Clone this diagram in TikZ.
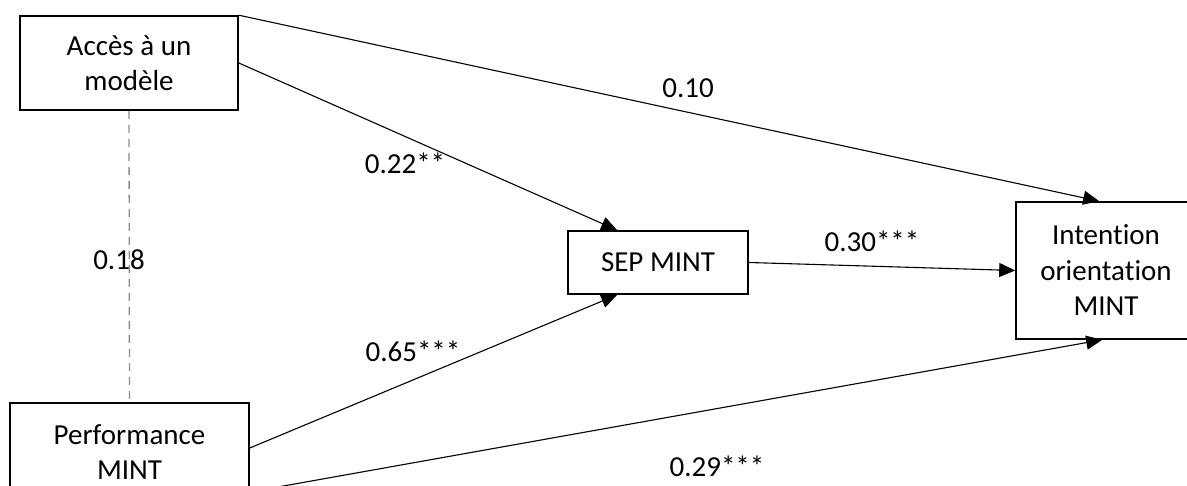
\documentclass[tikz,border=0pt]{standalone}
\usepackage{fontspec}
\setmainfont[Ligatures={NoCommon,NoRequired}]{Carlito}
\usetikzlibrary{arrows.meta,calc}
\begin{document}
\begin{tikzpicture}[x=1pt,y=-1pt,
  box/.style={draw=black,line width=1.6pt,align=center,inner sep=0pt,font=\fontsize{29}{35.5}\selectfont},
  lbl/.style={font=\fontsize{29}{35}\selectfont,inner sep=0pt},
  arr/.style={draw=black,line width=1.1pt,-{Triangle[length=16pt,width=14pt]}},
  corr/.style={draw=black!45,line width=1.3pt,dash pattern=on 8pt off 6pt}]
\useasboundingbox (0,0) rectangle (1187,486);
\clip (0,0) rectangle (1187,486);
\node[box,minimum width=218pt,minimum height=94pt] (A) at (129,63) {Accès à un\\modèle};
\node[box,minimum width=239pt,minimum height=98pt] (P) at (129.5,452) {Performance\\MINT};
\node[box,minimum width=180pt,minimum height=63pt] (S) at (658,262.5) {SEP MINT};
\node[box,minimum width=180pt,minimum height=137pt] (I) at (1106,270.5) {Intention\\orientation\\MINT};
\coordinate (p3) at ($(P.east)+(0,-4)$);
\coordinate (p4) at ($(P.east)+(0,40)$);
\coordinate (i1) at ($(I.north west)+(84,0)$);
\coordinate (i4) at ($(I.south west)+(87,0)$);
\coordinate (s2) at ($(S.north west)+(50,0)$);
\coordinate (s3) at ($(S.south west)+(50,0)$);
\draw[corr] (A.south) -- (P.north);
\draw[arr] (A.north east) -- (i1);
\draw[arr] (A.east) -- (s2);
\draw[arr] (p3) -- (s3);
\draw[arr] (p4) -- (i4);
\draw[arr] (S.east) -- (I.west);
\node[lbl] (l10) at (688,88) {0.10};
\node[lbl] (l22) at (405,163) {0.22**};
\node[lbl] (l30) at (872,241) {0.30***};
\node[lbl] (l18) at (119,260) {0.18};
\node[lbl] (l65) at (413,351) {0.65***};
\node[lbl] (l29) at (717,466) {0.29***};
\end{tikzpicture}
\end{document}
